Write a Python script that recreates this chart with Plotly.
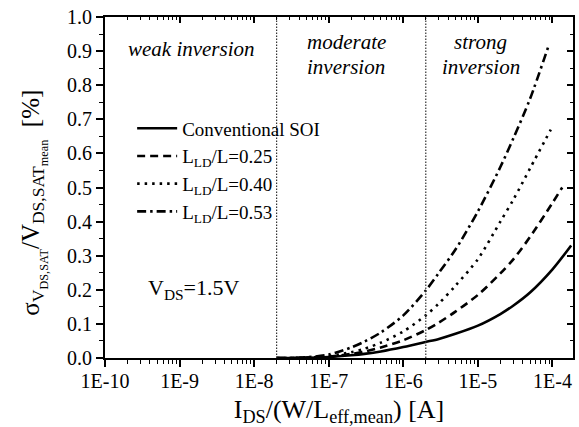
import plotly.graph_objects as go

# ---------------- data ----------------
ids_conv = [2e-8, 3e-8, 5e-8, 1e-7, 2e-7, 3e-7, 5e-7, 1e-6, 2e-6, 3e-6, 5e-6, 1e-5, 2e-5, 3e-5, 5e-5, 1e-4, 1.78e-4]
sig_conv = [0.0, 0.0, 0.0005, 0.003, 0.008, 0.012, 0.019, 0.032, 0.047, 0.056, 0.071, 0.095, 0.129, 0.154, 0.192, 0.260, 0.330]

ids_025 = [2e-8, 3e-8, 5e-8, 1e-7, 2e-7, 3e-7, 5e-7, 1e-6, 2e-6, 3e-6, 5e-6, 1e-5, 2e-5, 3e-5, 5e-5, 1e-4, 1.35e-4]
sig_025 = [0.0, 0.0, 0.001, 0.004, 0.012, 0.019, 0.031, 0.052, 0.082, 0.104, 0.136, 0.185, 0.248, 0.290, 0.355, 0.455, 0.500]

ids_040 = [2e-8, 3e-8, 5e-8, 1e-7, 2e-7, 3e-7, 5e-7, 1e-6, 2e-6, 3e-6, 5e-6, 1e-5, 2e-5, 3e-5, 5e-5, 9.5e-5]
sig_040 = [0.0, 0.0, 0.001, 0.006, 0.017, 0.027, 0.045, 0.078, 0.125, 0.160, 0.212, 0.290, 0.400, 0.465, 0.556, 0.670]

ids_053 = [2e-8, 3e-8, 5e-8, 1e-7, 2e-7, 3e-7, 5e-7, 1e-6, 2e-6, 3e-6, 5e-6, 1e-5, 2e-5, 3e-5, 5e-5, 9e-5]
sig_053 = [0.0, 0.0, 0.002, 0.010, 0.031, 0.048, 0.075, 0.125, 0.198, 0.250, 0.318, 0.430, 0.560, 0.645, 0.760, 0.920]

series_names = ["Conventional SOI", "L<sub>LD</sub>/L=0.25", "L<sub>LD</sub>/L=0.40", "L<sub>LD</sub>/L=0.53"]
series_dash = ["solid", "8px,5px", "2.5px,5px", "9px,4px,2.5px,4px"]

region_bounds = [2e-8, 2e-6]
region_lines = ["<i>weak inversion</i>", "<i>moderate</i>", "<i>inversion</i>", "<i>strong</i>", "<i>inversion</i>"]

x_tick_vals = [1e-10, 1e-9, 1e-8, 1e-7, 1e-6, 1e-5, 1e-4]
x_tick_text = ["1E-10", "1E-9", "1E-8", "1E-7", "1E-6", "1E-5", "1E-4"]
y_tick_vals = [0.0, 0.1, 0.2, 0.3, 0.4, 0.5, 0.6, 0.7, 0.8, 0.9, 1.0]
y_tick_text = ["0.0", "0.1", "0.2", "0.3", "0.4", "0.5", "0.6", "0.7", "0.8", "0.9", "1.0"]

x_minor = [m * 10.0 ** e for e in range(-10, -3) for m in range(2, 10)]
y_minor = [i * 0.05 for i in range(0, 21)]

FONT = "Liberation Serif"

fig = go.Figure()

for xs, ys, name, dash in zip([ids_conv, ids_025, ids_040, ids_053],
                              [sig_conv, sig_025, sig_040, sig_053],
                              series_names, series_dash):
    fig.add_trace(go.Scatter(x=xs, y=ys, mode="lines", name=name,
                             line=dict(color="black", width=2.6, dash=dash,
                                       shape="spline", smoothing=0.8)))

for b in region_bounds:
    fig.add_trace(go.Scatter(x=[b, b], y=[0, 1], mode="lines", showlegend=False,
                             line=dict(color="#333", width=1.2, dash="1.5px,1.5px"),
                             hoverinfo="skip"))

# helper trace for mirrored axes
fig.add_trace(go.Scatter(x=[1e-9], y=[0.5], xaxis="x2", yaxis="y2", mode="markers",
                         marker=dict(opacity=0), showlegend=False, hoverinfo="skip"))

xrange = [-10, -3.725]
axis_common = dict(showgrid=False, zeroline=False, showline=True, linecolor="black",
                   linewidth=2, tickcolor="black")

fig.update_layout(
    width=579, height=427,
    margin=dict(l=105, r=6, t=15, b=69),
    paper_bgcolor="white", plot_bgcolor="white",
    font=dict(family=FONT, color="black", size=20),
    xaxis=dict(type="log", range=xrange, tickmode="array", tickvals=x_tick_vals,
               ticktext=x_tick_text, ticks="outside", ticklen=7, tickwidth=1.5,
               ticklabelstandoff=-3,
               tickfont=dict(size=20, family=FONT),
               minor=dict(tickmode="array", tickvals=x_minor, ticks="outside", ticklen=4,
                          tickwidth=1.2, tickcolor="black", showgrid=False),
               title=dict(text="I<sub>DS</sub>/(W/L<sub>eff,mean</sub>) [A]",
                          font=dict(size=26, family=FONT), standoff=10),
               **axis_common),
    yaxis=dict(range=[0, 1.0], tickmode="array", tickvals=y_tick_vals, ticktext=y_tick_text,
               ticks="outside", ticklen=7, tickwidth=1.5,
               tickfont=dict(size=20, family=FONT),
               minor=dict(tickmode="array", tickvals=y_minor, ticks="outside", ticklen=4,
                          tickwidth=1.2, tickcolor="black", showgrid=False),
               **axis_common),
    xaxis2=dict(type="log", range=xrange, overlaying="x", side="top", anchor="y",
                tickmode="array", tickvals=x_tick_vals, showticklabels=False,
                ticks="inside", ticklen=6, tickwidth=1.5,
                minor=dict(tickmode="array", tickvals=x_minor, ticks="inside", ticklen=3,
                           tickwidth=1.2, tickcolor="black", showgrid=False),
                **axis_common),
    yaxis2=dict(range=[0, 1.0], overlaying="y", side="right", anchor="x",
                tickmode="array", tickvals=y_tick_vals, showticklabels=False,
                ticks="inside", ticklen=6, tickwidth=1.5,
                minor=dict(tickmode="array", tickvals=y_minor, ticks="inside", ticklen=3,
                           tickwidth=1.2, tickcolor="black", showgrid=False),
                **axis_common),
    legend=dict(x=0.058, y=0.729, xanchor="left", yanchor="top",
                bgcolor="rgba(0,0,0,0)", font=dict(size=19, family=FONT),
                tracegroupgap=0, itemwidth=40),
    showlegend=True,
)

# y-axis title as rotated annotation
fig.add_annotation(x=-0.152, y=0.455, xref="paper", yref="paper", textangle=-90,
                   text="σ<sub>V<sub>DS,SAT</sub></sub>/V<sub>DS,SAT<sub>mean</sub></sub>  [%]",
                   showarrow=False, font=dict(size=25, family=FONT),
                   xanchor="center", yanchor="middle")

ann_pos = [(0.184, 0.905), (0.516, 0.927), (0.516, 0.854), (0.803, 0.927), (0.803, 0.854)]
for (ax, ay), txt in zip(ann_pos, region_lines):
    fig.add_annotation(x=ax, y=ay, xref="paper", yref="paper", text=txt, showarrow=False,
                       font=dict(size=21, family=FONT), xanchor="center", yanchor="middle")

fig.add_annotation(x=0.19, y=0.202, xref="paper", yref="paper", text="V<sub>DS</sub>=1.5V",
                   showarrow=False, font=dict(size=22, family=FONT),
                   xanchor="center", yanchor="middle")

fig.write_html("out.html")
